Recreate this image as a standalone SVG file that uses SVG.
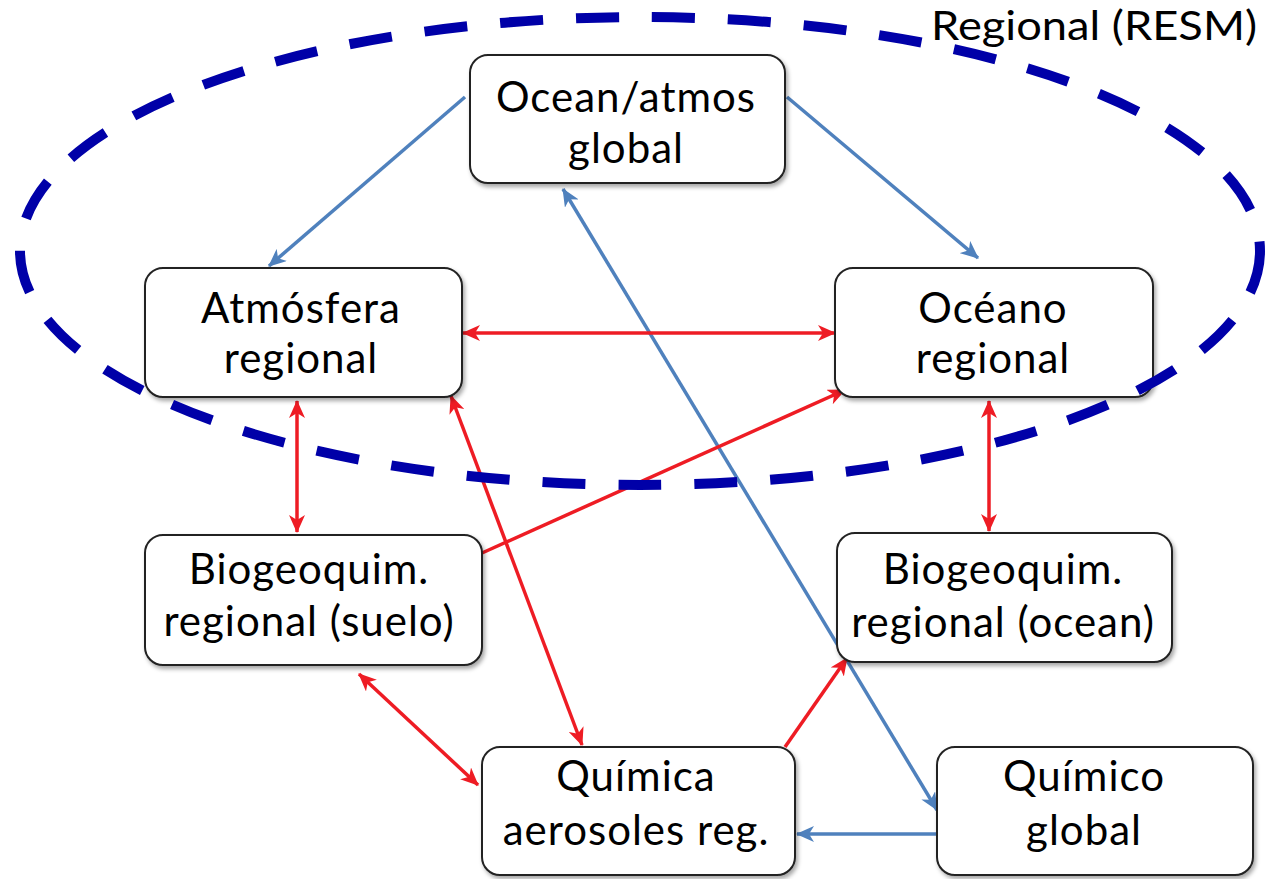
<svg xmlns="http://www.w3.org/2000/svg" width="1273" height="879" viewBox="0 0 1273 879">
<style>
.box{fill:#fff;stroke:#222;stroke-width:2;filter:url(#sh)}
.t{font-family:Lato,"Noto Sans",sans-serif;font-size:42px;letter-spacing:1px;fill:#000;text-anchor:middle}
.blue{stroke:#4f81bd;stroke-width:3.5;fill:none}
.red{stroke:#ee1c24;stroke-width:3.5;fill:none}
.ell{fill:none;stroke:#0000a8;stroke-width:10;stroke-dasharray:43 33}
</style>
<defs>
<filter id="sh" x="-10%" y="-10%" width="120%" height="130%">
<feDropShadow dx="2" dy="3" stdDeviation="2" flood-color="#000" flood-opacity="0.35"/>
</filter>
<marker id="ab" viewBox="0 0 18 16" refX="17" refY="8" markerWidth="18" markerHeight="16" markerUnits="userSpaceOnUse" orient="auto-start-reverse">
<path d="M0,0 L18,8 L0,16 L5,8 Z" fill="#4f81bd"/>
</marker>
<marker id="ar" viewBox="0 0 18 16" refX="17" refY="8" markerWidth="18" markerHeight="16" markerUnits="userSpaceOnUse" orient="auto-start-reverse">
<path d="M0,0 L18,8 L0,16 L5,8 Z" fill="#ee1c24"/>
</marker>
</defs>
<rect width="1273" height="879" fill="#fff"/>
<g id="connectors">
<line class="blue" x1="465" y1="97" x2="269" y2="266" marker-end="url(#ab)"/>
<line class="blue" x1="787" y1="97" x2="978" y2="258" marker-end="url(#ab)"/>
<line class="blue" x1="563" y1="189" x2="937" y2="810" marker-start="url(#ab)" marker-end="url(#ab)"/>
<line class="blue" x1="937" y1="834" x2="797" y2="834" marker-end="url(#ab)"/>
<line class="red" x1="463" y1="333" x2="835" y2="333" marker-start="url(#ar)" marker-end="url(#ar)"/>
<line class="red" x1="297" y1="401" x2="297" y2="532" marker-start="url(#ar)" marker-end="url(#ar)"/>
<line class="red" x1="482" y1="553" x2="845" y2="390" marker-end="url(#ar)"/>
<line class="red" x1="451" y1="396" x2="582" y2="745" marker-start="url(#ar)" marker-end="url(#ar)"/>
<line class="red" x1="989" y1="401" x2="989" y2="531" marker-start="url(#ar)" marker-end="url(#ar)"/>
<line class="red" x1="359" y1="674" x2="478" y2="785" marker-start="url(#ar)" marker-end="url(#ar)"/>
<line class="red" x1="785" y1="747" x2="847" y2="658" marker-end="url(#ar)"/>
</g>
<g id="n-ocean-atmos-global">
<rect class="box" x="470" y="55" width="315" height="128" rx="18"/>
<text class="t" x="626" y="112">Ocean/atmos</text>
<text class="t" x="626" y="163">global</text>
</g>
<g id="n-atmosfera">
<rect class="box" x="145" y="268" width="317" height="129" rx="18"/>
<text class="t" x="301" y="323">Atmósfera</text>
<text class="t" x="301" y="373">regional</text>
</g>
<g id="n-oceano">
<rect class="box" x="835" y="268" width="318" height="129" rx="18"/>
<text class="t" x="993" y="323">Océano</text>
<text class="t" x="993" y="373">regional</text>
</g>
<g id="n-biogeo-suelo">
<rect class="box" x="145" y="535" width="337" height="130" rx="18"/>
<text class="t" x="309" y="584">Biogeoquim.</text>
<text class="t" x="309" y="636">regional (suelo)</text>
</g>
<g id="n-biogeo-ocean">
<rect class="box" x="837" y="533" width="335" height="129" rx="18"/>
<text class="t" x="1003" y="584">Biogeoquim.</text>
<text class="t" x="1003" y="637">regional (ocean)</text>
</g>
<g id="n-quimica">
<rect class="box" x="482" y="747" width="313" height="128" rx="18"/>
<text class="t" x="636" y="791">Química</text>
<text class="t" x="636" y="845">aerosoles reg.</text>
</g>
<g id="n-quimico-global">
<rect class="box" x="937" y="747" width="316" height="128" rx="18"/>
<text class="t" x="1084" y="791">Químico</text>
<text class="t" x="1084" y="845">global</text>
</g>
<g id="region">
<ellipse class="ell" cx="640" cy="251" rx="620" ry="234"/>
<text class="t" x="931" y="40" textLength="326" lengthAdjust="spacingAndGlyphs" style="text-anchor:start;letter-spacing:0;font-size:40px">Regional (RESM)</text>
</g>
</svg>
